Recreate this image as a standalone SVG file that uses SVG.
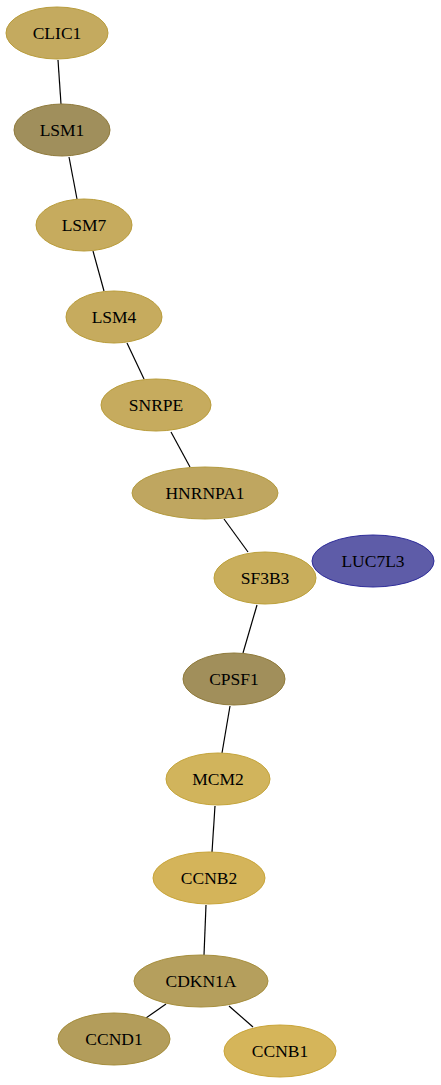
<svg xmlns="http://www.w3.org/2000/svg" width="441" height="1085" viewBox="0 0 441 1085">
<style>
.n text{font-family:"Liberation Serif","Times New Roman",serif;font-size:17.5px;text-anchor:middle;fill:#000}
.e line{stroke:#000;stroke-width:1.2}
</style>
<rect width="441" height="1085" fill="#fff"/>
<g class="e" id="edges">
<line x1="58" y1="60" x2="61" y2="104"/>
<line x1="69" y1="157" x2="77" y2="199"/>
<line x1="93" y1="251" x2="104" y2="291"/>
<line x1="127" y1="343" x2="144" y2="379"/>
<line x1="171" y1="432" x2="190" y2="467"/>
<line x1="224" y1="519" x2="248" y2="552"/>
<line x1="257" y1="605" x2="243" y2="653"/>
<line x1="230" y1="706" x2="222" y2="753"/>
<line x1="215" y1="806" x2="212" y2="852"/>
<line x1="206" y1="905" x2="204" y2="955"/>
<line x1="166" y1="1004" x2="146" y2="1018"/>
<line x1="229" y1="1006" x2="253" y2="1027"/>
</g>
<g class="n" font-family="Liberation Serif, serif">
<g id="CLIC1"><ellipse cx="57" cy="33" rx="51" ry="26" fill="#c4aa5f" stroke="#b89c3c"/><text x="57" y="39">CLIC1</text></g>
<g id="LSM1"><ellipse cx="62" cy="130" rx="48" ry="26" fill="#a08f5c" stroke="#8f7a3c"/><text x="62" y="136">LSM1</text></g>
<g id="LSM7"><ellipse cx="84" cy="225" rx="48" ry="26" fill="#c6ab5e" stroke="#b99c3a"/><text x="84" y="231">LSM7</text></g>
<g id="LSM4"><ellipse cx="114" cy="317" rx="48" ry="26" fill="#c6ab5e" stroke="#b99c3a"/><text x="114" y="323">LSM4</text></g>
<g id="SNRPE"><ellipse cx="156" cy="405" rx="55" ry="26" fill="#c6ab5e" stroke="#b99c3a"/><text x="156" y="411">SNRPE</text></g>
<g id="HNRNPA1"><ellipse cx="205" cy="493" rx="73" ry="26" fill="#bfa660" stroke="#b39a3e"/><text x="205" y="499">HNRNPA1</text></g>
<g id="SF3B3"><ellipse cx="265" cy="578" rx="51" ry="26" fill="#c9ae5c" stroke="#bca03a"/><text x="265" y="584">SF3B3</text></g>
<g id="LUC7L3"><ellipse cx="373" cy="561" rx="61" ry="26" fill="#5e5ca8" stroke="#2e2c9a"/><text x="373" y="567">LUC7L3</text></g>
<g id="CPSF1"><ellipse cx="234" cy="679" rx="51" ry="26" fill="#a18f5b" stroke="#8f7a3a"/><text x="234" y="685">CPSF1</text></g>
<g id="MCM2"><ellipse cx="218" cy="779" rx="52" ry="26" fill="#d1b45c" stroke="#c4a43a"/><text x="218" y="785">MCM2</text></g>
<g id="CCNB2"><ellipse cx="209" cy="878" rx="56" ry="26" fill="#d4b45a" stroke="#c8a438"/><text x="209" y="884">CCNB2</text></g>
<g id="CDKN1A"><ellipse cx="201" cy="981" rx="67" ry="26" fill="#b59f5d" stroke="#a68e3c"/><text x="201" y="987">CDKN1A</text></g>
<g id="CCND1"><ellipse cx="114" cy="1039" rx="56" ry="26" fill="#b39d5b" stroke="#a48c3a"/><text x="114" y="1045">CCND1</text></g>
<g id="CCNB1"><ellipse cx="280" cy="1051" rx="56" ry="26" fill="#d5b55a" stroke="#c9a538"/><text x="280" y="1057">CCNB1</text></g>
</g>
</svg>
